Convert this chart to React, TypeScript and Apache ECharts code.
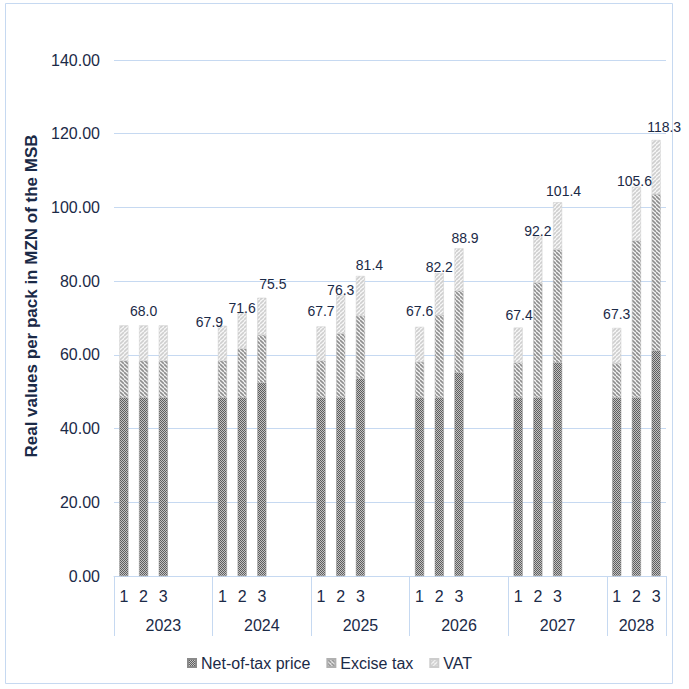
import React, { useEffect, useRef } from 'react';
import * as echarts from 'echarts';

// ---- data ----
const years = ['2023', '2024', '2025', '2026', '2027', '2028'];
const scenarios = ['1', '2', '3'];
const netOfTax = [48.4, 48.4, 48.4, 48.4, 48.4, 52.4, 48.4, 48.4, 53.6, 48.4, 48.4, 55.2, 48.4, 48.4, 57.9, 48.4, 48.4, 61.1];
const exciseTax = [10.0, 10.0, 10.0, 10.0, 13.3, 13.0, 10.0, 17.4, 17.0, 9.7, 22.4, 22.2, 9.5, 31.2, 30.7, 9.3, 42.6, 42.5];
const vat = [9.6, 9.6, 9.6, 9.5, 9.9, 10.1, 9.3, 10.5, 10.8, 9.5, 11.4, 11.5, 9.5, 12.6, 12.8, 9.6, 14.6, 14.7];
const totals = [68.0, 68.0, 68.0, 67.9, 71.6, 75.5, 67.7, 76.3, 81.4, 67.6, 82.2, 88.9, 67.4, 92.2, 101.4, 67.3, 105.6, 118.3];
const totalShown = [false, true, false, true, true, true, true, true, true, true, true, true, true, true, true, true, true, true];
const seriesNames = ['Net-of-tax price', 'Excise tax', 'VAT'];
const yAxisTitle = 'Real values per pack in MZN of the MSB';

// ---- label placement (style, not data) ----
const labelOffsets: [number, number][] = [
  [0, 0], [0, -2], [0, 0],
  [-13, 8], [0, 8], [11, -2],
  [0, -3], [0, 7], [9, 1],
  [0, -4], [0, 6], [6, 2],
  [1, -1], [0, 7], [6, 1],
  [0, -2], [-2, 6], [8, -1],
];

const TEXT = '#1B2A47';
const BLUE_LINE = '#C6D9F1';
const FONT = 'Liberation Sans, Arial, sans-serif';

function makeCanvas(size: number, draw: (ctx: CanvasRenderingContext2D) => void) {
  const c = document.createElement('canvas');
  c.width = size;
  c.height = size;
  const ctx = c.getContext('2d') as CanvasRenderingContext2D;
  draw(ctx);
  return c;
}

function netPattern() {
  return makeCanvas(2, (ctx) => {
    ctx.fillStyle = '#c2c2c2';
    ctx.fillRect(0, 0, 2, 2);
    ctx.fillStyle = '#5e5e5e';
    ctx.fillRect(0, 0, 1, 1);
    ctx.fillRect(1, 1, 1, 1);
  });
}

function stripePattern(bg: string, fg: string, dir: 'back' | 'fwd', size: number, lw: number) {
  return makeCanvas(size, (ctx) => {
    ctx.fillStyle = bg;
    ctx.fillRect(0, 0, size, size);
    ctx.strokeStyle = fg;
    ctx.lineWidth = lw;
    for (let k = -1; k <= 1; k++) {
      ctx.beginPath();
      if (dir === 'back') {
        ctx.moveTo(0, size * k);
        ctx.lineTo(size, size + size * k);
      } else {
        ctx.moveTo(0, size + size * k);
        ctx.lineTo(size, size * k);
      }
      ctx.stroke();
    }
  });
}

export default function App() {
  const ref = useRef<HTMLDivElement>(null);

  useEffect(() => {
    if (!ref.current) return;
    const chart = echarts.init(ref.current, undefined, { renderer: 'svg' });

    // build slot layout: 3 bars + 2 blank slots per year, last year without blanks
    const slotLabels: string[] = [];
    const yearLabels: string[] = [];
    const slotIndex: number[] = [];
    years.forEach((y, yi) => {
      const nSlots = yi === years.length - 1 ? 3 : 5;
      for (let s = 0; s < nSlots; s++) {
        slotLabels.push(s < 3 ? scenarios[s] : '');
        const mid = nSlots === 5 ? 2 : 1;
        yearLabels.push(s === mid ? y : '');
        slotIndex.push(s < 3 ? yi * 3 + s : -1);
      }
    });
    const boundaries = new Set<number>();
    let acc = 0;
    years.forEach((_, yi) => {
      boundaries.add(acc);
      acc += yi === years.length - 1 ? 3 : 5;
    });

    const toSlots = (arr: number[]) => slotIndex.map((i) => (i < 0 ? null : arr[i]));

    const vatData = slotIndex.map((i) => {
      if (i < 0) return null;
      return {
        value: vat[i],
        label: {
          show: totalShown[i],
          offset: labelOffsets[i],
          formatter: () => totals[i].toFixed(1),
        },
      };
    });

    const netColor = { image: netPattern(), repeat: 'repeat' };
    const exciseColor = { image: stripePattern('#f4f4f4', '#8f8f8f', 'back', 4, 1.6), repeat: 'repeat' };
    const vatColor = { image: stripePattern('#f7f7f7', '#cfcfcf', 'fwd', 4, 1.6), repeat: 'repeat' };

    chart.setOption({
      animation: false,
      textStyle: { fontFamily: FONT, color: TEXT },
      grid: { left: 114, right: 23, top: 60, bottom: 113, containLabel: false },
      graphic: [
        {
          type: 'rect',
          shape: { x: 5.5, y: 3.5, width: 667, height: 680 },
          style: { fill: 'none', stroke: BLUE_LINE, lineWidth: 1 },
          silent: true,
        },
        {
          type: 'text',
          x: 31,
          y: 296,
          rotation: Math.PI / 2,
          silent: true,
          style: {
            text: yAxisTitle,
            fontSize: 17,
            fontWeight: 'bold',
            fontFamily: FONT,
            fill: TEXT,
            align: 'center',
            verticalAlign: 'middle',
          },
        },
      ],
      legend: {
        data: seriesNames,
        left: 182,
        top: 650,
        itemWidth: 8,
        itemHeight: 8,
        itemGap: 16,
        icon: 'rect',
        textStyle: { fontSize: 16, color: TEXT, fontFamily: FONT },
      },
      xAxis: [
        {
          type: 'category',
          data: slotLabels,
          position: 'bottom',
          axisLine: { show: true, lineStyle: { color: BLUE_LINE, width: 1 } },
          axisTick: {
            show: true,
            length: 60,
            interval: (index: number) => boundaries.has(index),
            lineStyle: { color: BLUE_LINE, width: 1 },
          },
          axisLabel: { interval: 0, fontSize: 16, color: TEXT, margin: 12, fontFamily: FONT },
          splitLine: { show: false },
        },
        {
          type: 'category',
          data: yearLabels,
          position: 'bottom',
          offset: 29,
          axisLine: { show: false },
          axisTick: { show: false },
          axisLabel: { interval: 0, fontSize: 16, color: TEXT, margin: 12, fontFamily: FONT },
          splitLine: { show: false },
        },
      ],
      yAxis: {
        type: 'value',
        min: 0,
        max: 140,
        interval: 20,
        axisLine: { show: false },
        axisTick: { show: false },
        axisLabel: {
          fontSize: 16,
          color: TEXT,
          margin: 14,
          fontFamily: FONT,
          formatter: (v: number) => v.toFixed(2),
        },
        splitLine: { show: true, lineStyle: { color: BLUE_LINE, width: 1 } },
      },
      series: [
        {
          name: seriesNames[0],
          type: 'bar',
          stack: 'total',
          barWidth: 9,
          data: toSlots(netOfTax),
          itemStyle: { color: netColor, borderColor: '#8a8a8a', borderWidth: 0.5 },
        },
        {
          name: seriesNames[1],
          type: 'bar',
          stack: 'total',
          barWidth: 9,
          data: toSlots(exciseTax),
          itemStyle: { color: exciseColor, borderColor: '#b0b0b0', borderWidth: 0.5 },
        },
        {
          name: seriesNames[2],
          type: 'bar',
          stack: 'total',
          barWidth: 9,
          data: vatData,
          itemStyle: { color: vatColor, borderColor: '#cdcdcd', borderWidth: 0.5 },
          label: {
            show: true,
            position: 'top',
            distance: 5,
            fontSize: 14,
            color: TEXT,
            fontFamily: FONT,
          },
        },
      ],
    });

    return () => chart.dispose();
  }, []);

  return (
    <div
      ref={ref}
      style={{ position: 'absolute', left: 0, top: 0, width: 689, height: 689, background: '#fff' }}
    />
  );
}
